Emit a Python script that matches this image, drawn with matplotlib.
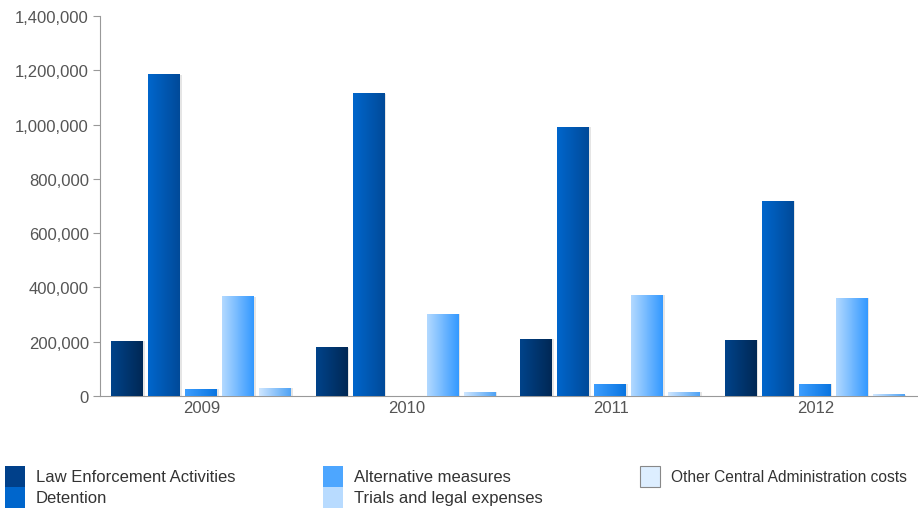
import numpy as np
import matplotlib
matplotlib.use("Agg")
import matplotlib.pyplot as plt
from matplotlib.colors import LinearSegmentedColormap
from matplotlib.patches import Rectangle
from matplotlib.ticker import FuncFormatter

years = ["2009", "2010", "2011", "2012"]
series = ["Law Enforcement Activities", "Detention", "Alternative measures",
          "Trials and legal expenses", "Other Central Administration costs"]
law_enforcement = [202000, 177000, 210000, 206000]
detention = [1183000, 1113000, 991000, 718000]
alternative = [25000, 0, 44000, 44000]
trials = [365000, 302000, 372000, 361000]
other_central = [29000, 14000, 14000, 5000]
yticks = [0, 200000, 400000, 600000, 800000, 1000000, 1200000, 1400000]

values = [law_enforcement, detention, alternative, trials, other_central]
# gradient (left, right) and legend swatch colours
grad = [("#00438A", "#002855"), ("#0066CC", "#004A99"), ("#3D9EFF", "#0A75E0"),
        ("#B3D9FF", "#3399FF"), ("#CFE6FF", "#4FA3F5")]
swatch = ["#00408A", "#0066CC", "#4DA6FF", "#B8DBFF", "#DDEEFF"]

FS = 12
plt.rcParams['font.family'] = ['Liberation Sans', 'DejaVu Sans']
fig = plt.figure(figsize=(9.18, 5.10), dpi=100)
ax = fig.add_axes([100/918, 113/510, 818/918, 380/510])

x = np.arange(len(years))
step = 0.181
width = 0.152
for j, vals in enumerate(values):
    pos = x + (j - 2) * step - 0.008
    # shadow
    ax.bar(pos + 0.012, vals, width, color="black", alpha=0.10, zorder=1, linewidth=0)
    bars = ax.bar(pos, vals, width, color=grad[j][1], zorder=2, linewidth=0)
    cmap = LinearSegmentedColormap.from_list(f"g{j}", [grad[j][0], grad[j][1]])
    g = np.linspace(0, 1, 64).reshape(1, -1)
    for b in bars:
        h = b.get_height()
        if h <= 0:
            continue
        ax.imshow(g, cmap=cmap, aspect="auto", zorder=3,
                  extent=[b.get_x(), b.get_x() + b.get_width(), 0, h],
                  interpolation="bilinear")

ax.set_xlim(-0.5, 3.5)
ax.set_ylim(0, 1400000)
ax.set_yticks(yticks)
ax.yaxis.set_major_formatter(FuncFormatter(lambda v, p: f"{int(v):,}"))
ax.set_xticks(x)
ax.set_xticklabels(years)
for s in ["top", "right"]:
    ax.spines[s].set_visible(False)
for s in ["left", "bottom"]:
    ax.spines[s].set_color("#999999")
ax.tick_params(axis="y", length=5, color="#999999", labelsize=FS,
               labelcolor="#555555", pad=3)
ax.tick_params(axis="x", length=0, labelsize=FS, labelcolor="#555555", pad=3)

# legend (manual, column-major like the reference)
cols = [(5, [0, 1]), (323, [2, 3]), (640, [4])]
for cx, idxs in cols:
    for r, k in enumerate(idxs):
        y0 = 510 - 467 - r * 21  # top in pixels from bottom
        rect = Rectangle((cx / 918, (y0 - 21) / 510), 20 / 918, 21 / 510,
                         transform=fig.transFigure, facecolor=swatch[k],
                         edgecolor="#888888" if k == 4 else swatch[k],
                         linewidth=0.8 if k == 4 else 0)
        fig.add_artist(rect)
        fig.text((cx + 31) / 918, (y0 - 11) / 510, series[k],
                 fontsize=11.2 if k == 4 else FS,
                 color="#333333", va="center", ha="left")

fig.savefig("out.png", dpi=100)
